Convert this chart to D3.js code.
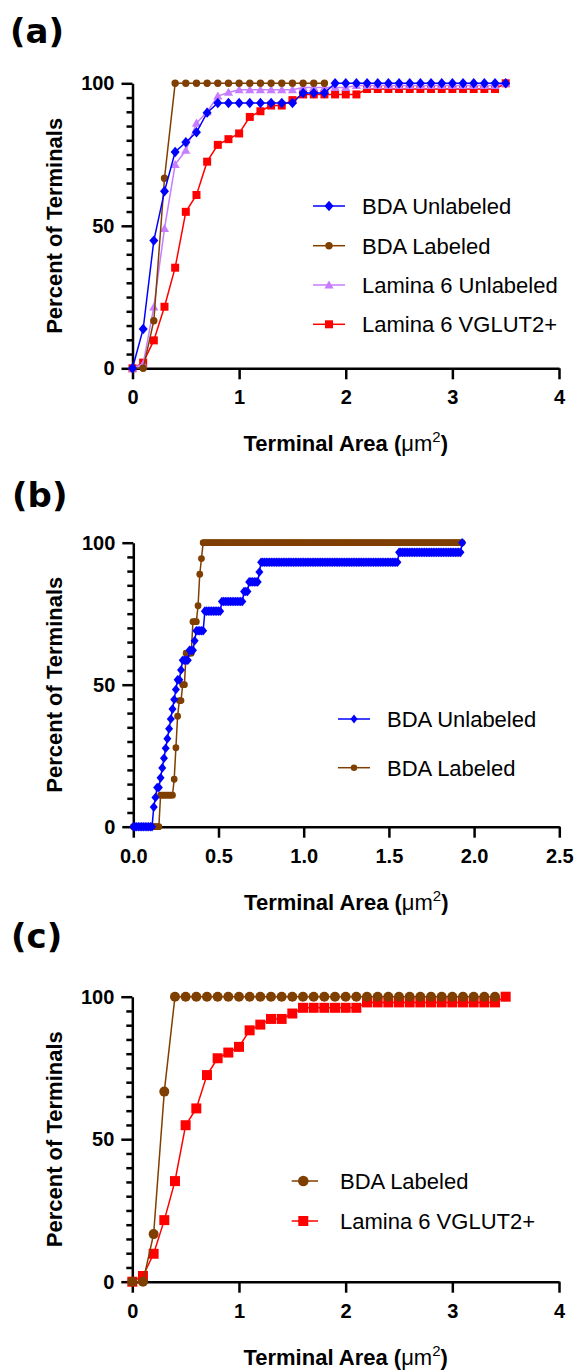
<!DOCTYPE html>
<html>
<head>
<meta charset="utf-8">
<script src="https://d3js.org/d3.v7.min.js"></script>
<style>
  body { margin: 0; background: #fff; }
</style>
</head>
<body>
<svg id="fig"></svg>
<script>
// ---- data: cumulative percent of terminals per terminal-area bin ----
const binsA = [0,0.1,0.2,0.3,0.4,0.5,0.6,0.7,0.8,0.9,1,1.1,1.2,1.3,1.4,1.5,1.6,1.7,1.8,1.9,
               2,2.1,2.2,2.3,2.4,2.5,2.6,2.7,2.8,2.9,3,3.1,3.2,3.3,3.4,3.5];

const bdaUnlabeledA = [0,13.8,44.8,62.1,75.9,79.3,82.8,89.7,93.1,93.1,93.1,93.1,93.1,93.1,93.1,93.1,96.6,96.6,96.6,100,
                       100,100,100,100,100,100,100,100,100,100,100,100,100,100,100,100];
const bdaLabeledA = [0,0,16.7,66.7,100,100,100,100,100,100,100,100,100,100,100,100,100,100,100];
const lam6UnlabeledA = [0,1.5,21.5,49.0,71.5,76.5,86.0,90.0,95.5,96.8,97.7,97.7,97.7,97.7,97.7,97.7,98.5,98.5,98.5,98.5,
                        98.5,99.2,99.2,99.2,99.2,99.2,99.2,99.2,99.2,99.2,99.2,99.2,99.2,99.2,99.2,100];
const lam6VglutA = [0,2.0,9.8,21.6,35.3,54.9,60.8,72.5,78.4,80.4,82.4,88.2,90.2,92.2,92.2,94.1,96.1,96.1,96.1,96.1,
                    96.1,96.1,98.0,98.0,98.0,98.0,98.0,98.0,98.0,98.0,98.0,98.0,98.0,98.0,98.0,100];

const binsB = [0,0.01,0.02,0.03,0.04,0.05,0.06,0.07,0.08,0.09,
  0.1,0.11,0.12,0.13,0.14,0.15,0.16,0.17,0.18,0.19,
  0.2,0.21,0.22,0.23,0.24,0.25,0.26,0.27,0.28,0.29,
  0.3,0.31,0.32,0.33,0.34,0.35,0.36,0.37,0.38,0.39,
  0.4,0.41,0.42,0.43,0.44,0.45,0.46,0.47,0.48,0.49,
  0.5,0.51,0.52,0.53,0.54,0.55,0.56,0.57,0.58,0.59,
  0.6,0.61,0.62,0.63,0.64,0.65,0.66,0.67,0.68,0.69,
  0.7,0.71,0.72,0.73,0.74,0.75,0.76,0.77,0.78,0.79,
  0.8,0.81,0.82,0.83,0.84,0.85,0.86,0.87,0.88,0.89,
  0.9,0.91,0.92,0.93,0.94,0.95,0.96,0.97,0.98,0.99,
  1,1.01,1.02,1.03,1.04,1.05,1.06,1.07,1.08,1.09,
  1.1,1.11,1.12,1.13,1.14,1.15,1.16,1.17,1.18,1.19,
  1.2,1.21,1.22,1.23,1.24,1.25,1.26,1.27,1.28,1.29,
  1.3,1.31,1.32,1.33,1.34,1.35,1.36,1.37,1.38,1.39,
  1.4,1.41,1.42,1.43,1.44,1.45,1.46,1.47,1.48,1.49,
  1.5,1.51,1.52,1.53,1.54,1.55,1.56,1.57,1.58,1.59,
  1.6,1.61,1.62,1.63,1.64,1.65,1.66,1.67,1.68,1.69,
  1.7,1.71,1.72,1.73,1.74,1.75,1.76,1.77,1.78,1.79,
  1.8,1.81,1.82,1.83,1.84,1.85,1.86,1.87,1.88,1.89,
  1.9,1.91,1.92,1.93];

const bdaUnlabeledB = [0,0,0,0,0,0,0,0,0,0,
  0,0,6.9,10.3,13.8,13.8,17.2,20.7,24.1,27.6,
  31.0,34.5,37.9,41.4,44.8,48.3,51.7,51.7,55.2,58.6,
  58.6,58.6,58.6,62.1,62.1,62.1,65.5,69.0,69.0,69.0,
  69.0,69.0,75.9,75.9,75.9,75.9,75.9,75.9,75.9,75.9,
  75.9,75.9,79.3,79.3,79.3,79.3,79.3,79.3,79.3,79.3,
  79.3,79.3,79.3,79.3,79.3,82.8,82.8,82.8,86.2,86.2,
  86.2,86.2,86.2,86.2,89.7,93.1,93.1,93.1,93.1,93.1,
  93.1,93.1,93.1,93.1,93.1,93.1,93.1,93.1,93.1,93.1,
  93.1,93.1,93.1,93.1,93.1,93.1,93.1,93.1,93.1,93.1,
  93.1,93.1,93.1,93.1,93.1,93.1,93.1,93.1,93.1,93.1,
  93.1,93.1,93.1,93.1,93.1,93.1,93.1,93.1,93.1,93.1,
  93.1,93.1,93.1,93.1,93.1,93.1,93.1,93.1,93.1,93.1,
  93.1,93.1,93.1,93.1,93.1,93.1,93.1,93.1,93.1,93.1,
  93.1,93.1,93.1,93.1,93.1,93.1,93.1,93.1,93.1,93.1,
  93.1,93.1,93.1,93.1,93.1,93.1,96.6,96.6,96.6,96.6,
  96.6,96.6,96.6,96.6,96.6,96.6,96.6,96.6,96.6,96.6,
  96.6,96.6,96.6,96.6,96.6,96.6,96.6,96.6,96.6,96.6,
  96.6,96.6,96.6,96.6,96.6,96.6,96.6,96.6,96.6,96.6,
  96.6,96.6,96.6,100];

const bdaLabeledB = [0,0,0,0,0,0,0,0,0,0,
  0,0,0,0,0,0,11.1,11.1,11.1,11.1,
  11.1,11.1,11.1,11.1,16.7,27.8,38.9,44.4,44.4,50.0,
  50.0,61.1,61.1,61.1,61.1,72.2,72.2,72.2,77.8,88.9,
  94.4,100,100,100,100,100,100,100,100,100,
  100,100,100,100,100,100,100,100,100,100,
  100,100,100,100,100,100,100,100,100,100,
  100,100,100,100,100,100,100,100,100,100,
  100,100,100,100,100,100,100,100,100,100,
  100,100,100,100,100,100,100,100,100,100,
  100,100,100,100,100,100,100,100,100,100,
  100,100,100,100,100,100,100,100,100,100,
  100,100,100,100,100,100,100,100,100,100,
  100,100,100,100,100,100,100,100,100,100,
  100,100,100,100,100,100,100,100,100,100,
  100,100,100,100,100,100,100,100,100,100,
  100,100,100,100,100,100,100,100,100,100,
  100,100,100,100,100,100,100,100,100,100,
  100,100,100,100,100,100,100,100,100,100,
  100,100,100,100];

const bdaLabeledC = [0,0,16.7,66.7,100,100,100,100,100,100,100,100,100,100,100,100,100,100,100,100,
                     100,100,100,100,100,100,100,100,100,100,100,100,100,100,100];
const lam6VglutC = [0,2.0,9.8,21.6,35.3,54.9,60.8,72.5,78.4,80.4,82.4,88.2,90.2,92.2,92.2,94.1,96.1,96.1,96.1,96.1,
                    96.1,96.1,98.0,98.0,98.0,98.0,98.0,98.0,98.0,98.0,98.0,98.0,98.0,98.0,98.0,100];

const xTicksA = [0, 1, 2, 3, 4];
const xTicksB = [0, 0.5, 1, 1.5, 2, 2.5];
const yMajorTicks = [0, 50, 100];
const yMinorTicks = [5,10,15,20,25,30,35,40,45,55,60,65,70,75,80,85,90,95];

const FONT = '"Liberation Sans", Arial, sans-serif';
const BLUE = '#0000ff', BROWN = '#7f3f00', LAVENDER = '#c77dff', RED = '#ff0000';

const svg = d3.select('#fig').attr('width', 576).attr('height', 1371);

function markerPath(shape, s) {
    if (shape === 'diamond') return `M0,${-s.h}L${s.w},0L0,${s.h}L${-s.w},0Z`;
    if (shape === 'square') return `M${-s.r},${-s.r}H${s.r}V${s.r}H${-s.r}Z`;
    if (shape === 'triangle') return `M0,${-s.r}L${s.r},${s.r*0.75}L${-s.r},${s.r*0.75}Z`;
    return d3.symbol(d3.symbolCircle, Math.PI * s.r * s.r)();
}

class CumulativePlot {
    constructor (config) {
        this.config = config;
        this.init();
        this.render();
    }

    init() {
        let self = this;
        const c = self.config;

        self.x = d3.scaleLinear().domain(c.xDomain).range([c.left, c.right]);
        self.y = d3.scaleLinear().domain([0, 100]).range([c.bottom, c.top]);

        // panel letter
        svg.append('text')
            .attr('x', c.labelX).attr('y', c.labelY)
            .style('font-family', '"DejaVu Sans", sans-serif')
            .style('font-size', '34px')
            .style('font-weight', 'bold')
            .text(c.label);

        // minor y ticks
        svg.append('g')
            .attr('transform', `translate(${c.left},0)`)
            .call(d3.axisLeft(self.y).tickValues(yMinorTicks).tickSize(6).tickFormat(''))
            .call(g => g.select('.domain').remove())
            .call(g => g.selectAll('line').attr('stroke-width', 2.5));

        const yAxis = svg.append('g')
            .attr('transform', `translate(${c.left},0)`)
            .call(d3.axisLeft(self.y).tickValues(yMajorTicks).tickSize(11).tickSizeOuter(0).tickPadding(7));
        yAxis.select('.domain').attr('stroke-width', 2.5);
        yAxis.selectAll('.tick line').attr('stroke-width', 2.5);
        yAxis.selectAll('.tick text')
            .style('font-family', FONT).style('font-size', '20px').style('font-weight', 'bold').attr('fill', '#000');

        const xAxis = svg.append('g')
            .attr('transform', `translate(0,${c.bottom})`)
            .call(d3.axisBottom(self.x).tickValues(c.xTicks).tickFormat(c.xFormat).tickSize(11).tickSizeOuter(0));
        xAxis.select('.domain').attr('stroke-width', 2.5);
        xAxis.selectAll('.tick line').attr('stroke-width', 2.5);
        xAxis.selectAll('.tick text')
            .attr('y', 22)
            .style('font-family', FONT).style('font-size', '20px').style('font-weight', 'bold').attr('fill', '#000');

        // axis titles
        svg.append('text')
            .attr('transform', `translate(62,${(c.top + c.bottom) / 2}) rotate(-90)`)
            .attr('text-anchor', 'middle')
            .style('font-family', FONT).style('font-size', '22px').style('font-weight', 'bold')
            .text('Percent of Terminals');

        const t = svg.append('text')
            .attr('x', (c.left + c.right) / 2)
            .attr('y', c.bottom + 83)
            .attr('text-anchor', 'middle')
            .style('font-family', FONT).style('font-size', '22px').style('font-weight', 'bold');
        t.append('tspan').text('Terminal Area (');
        t.append('tspan').style('font-weight', 'normal').text('\u03bcm');
        t.append('tspan').style('font-weight', 'normal').style('font-size', '15px').attr('dy', -9).text('2');
        t.append('tspan').attr('dy', 9).text(')');
    }

    render() {
        let self = this;
        const c = self.config;
        const line = d3.line().x(d => self.x(d[0])).y(d => self.y(d[1]));

        // first legend entry sits on top, so draw in reverse
        c.series.slice().reverse().forEach(s => {
            const pts = d3.zip(s.x.slice(0, s.y.length), s.y);
            const g = svg.append('g');
            g.append('path')
                .datum(pts)
                .attr('d', line)
                .attr('fill', 'none')
                .attr('stroke', s.color)
                .attr('stroke-width', 1.5);
            g.selectAll('path.mk')
                .data(pts)
                .join('path')
                .attr('class', 'mk')
                .attr('transform', d => `translate(${self.x(d[0])},${self.y(d[1])})`)
                .attr('d', markerPath(s.shape, s.size))
                .attr('fill', s.color);
        });

        // legend
        const lg = c.legend;
        c.series.forEach((s, i) => {
            const yy = lg.rows[i];
            svg.append('line')
                .attr('x1', lg.x0).attr('x2', lg.x1).attr('y1', yy).attr('y2', yy)
                .attr('stroke', s.color).attr('stroke-width', 1.5);
            svg.append('path')
                .attr('transform', `translate(${lg.mx},${yy})`)
                .attr('d', markerPath(s.shape, lg.size ? lg.size[i] : s.size))
                .attr('fill', s.color);
            svg.append('text')
                .attr('x', lg.tx).attr('y', yy).attr('dy', '0.36em')
                .style('font-family', FONT).style('font-size', '22px')
                .text(s.name);
        });
    }
}

new CumulativePlot({
    label: '(a)', labelX: 10, labelY: 43,
    left: 132.5, right: 559, top: 83.3, bottom: 368.3,
    xDomain: [0, 4], xTicks: xTicksA, xFormat: d3.format('d'),
    series: [
        {name: 'BDA Unlabeled', x: binsA, y: bdaUnlabeledA, color: BLUE, shape: 'diamond', size: {w: 4.5, h: 5.2}},
        {name: 'BDA Labeled', x: binsA, y: bdaLabeledA, color: BROWN, shape: 'circle', size: {r: 3.7}},
        {name: 'Lamina 6 Unlabeled', x: binsA, y: lam6UnlabeledA, color: LAVENDER, shape: 'triangle', size: {r: 4.6}},
        {name: 'Lamina 6 VGLUT2+', x: binsA, y: lam6VglutA, color: RED, shape: 'square', size: {r: 4}}
    ],
    legend: {x0: 313, x1: 345, mx: 329, tx: 362, rows: [206, 245.7, 285, 324.3]}
});

new CumulativePlot({
    label: '(b)', labelX: 12, labelY: 507,
    left: 133.3, right: 559.3, top: 542.7, bottom: 826.7,
    xDomain: [0, 2.5], xTicks: xTicksB, xFormat: d3.format('.1f'),
    series: [
        {name: 'BDA Unlabeled', x: binsB, y: bdaUnlabeledB, color: BLUE, shape: 'diamond', size: {w: 4, h: 4.8}},
        {name: 'BDA Labeled', x: binsB, y: bdaLabeledB, color: BROWN, shape: 'circle', size: {r: 3.4}}
    ],
    legend: {x0: 338, x1: 370, mx: 354, tx: 387, rows: [719, 767.7],
             size: [{w: 3.5, h: 4.5}, {r: 3.2}]}
});

new CumulativePlot({
    label: '(c)', labelX: 11, labelY: 948,
    left: 132.3, right: 559, top: 996.7, bottom: 1281.7,
    xDomain: [0, 4], xTicks: xTicksA, xFormat: d3.format('d'),
    series: [
        {name: 'BDA Labeled', x: binsA, y: bdaLabeledC, color: BROWN, shape: 'circle', size: {r: 5}},
        {name: 'Lamina 6 VGLUT2+', x: binsA, y: lam6VglutC, color: RED, shape: 'square', size: {r: 5}}
    ],
    legend: {x0: 291.7, x1: 318, mx: 303.3, tx: 340, rows: [1181, 1221],
             size: [{r: 5.3}, {r: 5}]}
});
</script>
</body>
</html>
